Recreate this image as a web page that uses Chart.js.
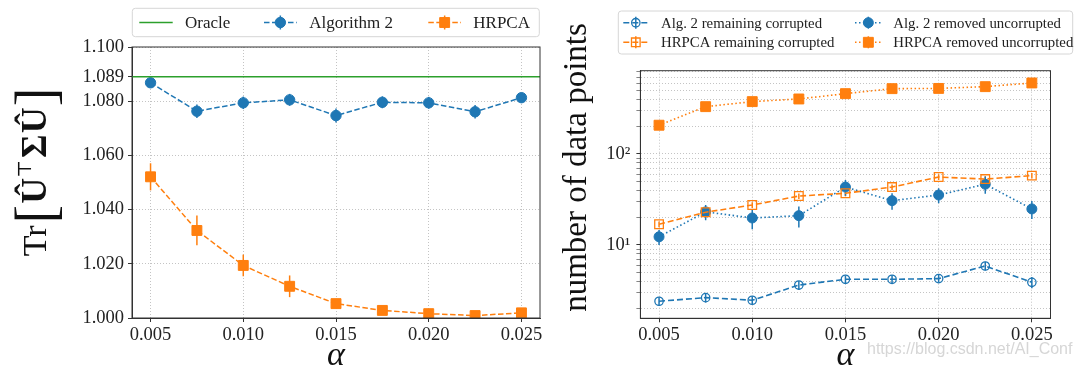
<!DOCTYPE html>
<html>
<head>
<meta charset="utf-8">
<script src="https://cdn.jsdelivr.net/npm/chart.js@4.4.0/dist/chart.umd.min.js"></script>
<style>
  html, body { margin: 0; padding: 0; background: #fff; }
  body { width: 1080px; height: 369px; position: relative; overflow: hidden; }
  canvas { position: absolute; top: 0; }
  #trChart { left: 0; }
  #countChart { left: 550px; }
  #mark {
    position: absolute; left: 867px; top: 341px;
    font: 16px/16px "Liberation Sans", sans-serif; color: #d6d6d6; white-space: nowrap;
  }
</style>
</head>
<body>
<canvas id="trChart" width="550" height="369"></canvas>
<canvas id="countChart" width="530" height="369"></canvas>
<div id="mark">https://blog.csdn.net/AI_Conf</div>
<script>
// values
const alphas = [0.005, 0.0075, 0.01, 0.0125, 0.015, 0.0175, 0.02, 0.0225, 0.025];
const alphaTicks = [0.005, 0.01, 0.015, 0.02, 0.025];

const oracleValue = 1.089;
const alg2Trace = [1.0868, 1.0763, 1.0794, 1.0805, 1.0747, 1.0796, 1.0794, 1.0761, 1.0813];
const alg2TraceErr = [0.001, 0.0025, 0.0023, 0.0022, 0.0026, 0.0022, 0.0022, 0.0025, 0.0015];
const hrpcaTrace = [1.0521, 1.0323, 1.0194, 1.0117, 1.0053, 1.0028, 1.0016, 1.0009, 1.0019];
const hrpcaTraceErr = [0.005, 0.0055, 0.004, 0.004, 0.001, 0.0008, 0.0006, 0.0005, 0.0006];
const traceTicks = [1.0, 1.02, 1.04, 1.06, 1.08, 1.089, 1.1];

const alg2Remaining = [2.41, 2.64, 2.47, 3.63, 4.2, 4.2, 4.27, 5.88, 3.89];
const alg2RemainingErr = [0.25, 0.3, 0.25, 0.4, 0.4, 0.45, 0.4, 0.65, 0.55];
const hrpcaRemaining = [16.9, 22.9, 27.5, 34.5, 37.0, 43.3, 55.8, 53.0, 57.8];
const hrpcaRemainingErr = [1.2, 1.6, 2, 2.4, 2.6, 3, 4, 4, 4];
const alg2Removed = [12.3, 23.1, 19.8, 21.0, 43.3, 30.7, 35.4, 46.5, 24.9];
const alg2RemovedErr = [2.3, 4.4, 4.9, 5.4, 8.5, 6.3, 6.6, 9.9, 5.6];
const hrpcaRemoved = [207, 331, 376, 402, 460, 522, 525, 549, 603];
const hrpcaRemovedErr = [8, 12, 14, 15, 17, 18, 18, 20, 20];
const countLabels = { 10: "10\u00B9", 100: "10\u00B2" };

const BLUE = "#1f77b4";
const ORANGE = "#ff7f0e";
const GREEN = "#2ca02c";
const SERIF = '"Liberation Serif", "DejaVu Serif", serif';

Chart.defaults.font.family = SERIF;
Chart.defaults.color = "#222";

const points = (ys) => alphas.map((a, i) => ({ x: a, y: ys[i] }));

// axes frame on all four sides
const frame = {
  id: "frame",
  afterDatasetsDraw(chart) {
    const { ctx, chartArea: a } = chart;
    ctx.save();
    ctx.strokeStyle = "#333";
    ctx.lineWidth = 1;
    ctx.strokeRect(a.left, a.top, a.right - a.left, a.bottom - a.top);
    ctx.restore();
  },
};

// vertical error bars, through the chart scales
const errorBars = {
  id: "errorBars",
  beforeDatasetsDraw(chart) {
    const { ctx, chartArea: a, scales } = chart;
    ctx.save();
    ctx.beginPath();
    ctx.rect(a.left, a.top, a.right - a.left, a.bottom - a.top);
    ctx.clip();
    chart.data.datasets.forEach((ds) => {
      if (!ds.errors) return;
      ctx.strokeStyle = ds.borderColor;
      ctx.lineWidth = 1.5;
      ds.data.forEach((p, j) => {
        const e = ds.errors[j];
        const px = scales.x.getPixelForValue(p.x);
        ctx.beginPath();
        ctx.moveTo(px, scales.y.getPixelForValue(p.y - e));
        ctx.lineTo(px, scales.y.getPixelForValue(p.y + e));
        ctx.stroke();
      });
    });
    ctx.restore();
  },
};

function drawMarker(ctx, ds, x, y) {
  const open = ds.pointBackgroundColor === "rgba(0,0,0,0)";
  ctx.save();
  ctx.setLineDash([]);
  ctx.fillStyle = ds.borderColor;
  ctx.strokeStyle = ds.borderColor;
  ctx.lineWidth = ds.pointBorderWidth || 1;
  ctx.beginPath();
  if (ds.pointStyle === "rect") {
    const h = ds.pointRadius * Math.SQRT1_2;
    ctx.rect(x - h, y - h, 2 * h, 2 * h);
  } else {
    ctx.arc(x, y, ds.pointRadius, 0, Math.PI * 2);
  }
  if (!open) ctx.fill();
  ctx.stroke();
  ctx.restore();
}

// matplotlib-like legend box
function makeLegend(cfg) {
  return {
    id: "boxLegend",
    afterDraw(chart) {
      const ctx = chart.ctx;
      const [bx, by, bw, bh] = cfg.box;
      ctx.save();
      ctx.fillStyle = "rgba(255,255,255,0.85)";
      ctx.strokeStyle = "#d6d6d6";
      ctx.lineWidth = 1;
      ctx.beginPath();
      ctx.roundRect(bx, by, bw, bh, 3);
      ctx.fill();
      ctx.stroke();

      cfg.entries.forEach((en) => {
        const ds = chart.data.datasets[en.ds];
        ctx.strokeStyle = ds.borderColor;
        ctx.lineWidth = ds.borderWidth;
        ctx.setLineDash(ds.borderDash || []);
        ctx.beginPath();
        ctx.moveTo(en.x0, en.y);
        ctx.lineTo(en.x1, en.y);
        ctx.stroke();
        ctx.setLineDash([]);
        const mx = (en.x0 + en.x1) / 2;
        if (ds.errors) {
          ctx.lineWidth = 1.5;
          ctx.beginPath();
          ctx.moveTo(mx, en.y - cfg.err);
          ctx.lineTo(mx, en.y + cfg.err);
          ctx.stroke();
        }
        if (ds.pointRadius) drawMarker(ctx, ds, mx, en.y);
        ctx.fillStyle = "#222";
        ctx.font = cfg.font;
        ctx.textAlign = "left";
        ctx.textBaseline = "middle";
        ctx.fillText(ds.label, en.tx, en.y + 1);
      });
      ctx.restore();
    },
  };
}

// rotated y label made of a few text runs
function makeYTitle(cfg) {
  return {
    id: "yTitle",
    afterDraw(chart) {
      const ctx = chart.ctx;
      ctx.save();
      ctx.translate(cfg.x, cfg.y);
      ctx.rotate(-Math.PI / 2);
      ctx.fillStyle = "#111";
      ctx.textBaseline = "alphabetic";
      ctx.textAlign = "left";
      let total = 0;
      cfg.runs.forEach((r) => {
        ctx.font = r.font;
        r.w = ctx.measureText(r.text).width;
        total += r.w + (r.gap || 0);
      });
      let u = -total / 2;
      cfg.runs.forEach((r) => {
        ctx.font = r.font;
        ctx.fillText(r.text, u, -(r.dy || 0));
        u += r.w + (r.gap || 0);
      });
      ctx.restore();
    },
  };
}

const tickFont = { family: SERIF, size: 18.5 };
const gridStyle = { color: "#c4c4c4", lineWidth: 1, tickColor: "#333", tickLength: 4 };
const gridBorder = { color: "#333", dash: [1, 2] };
const alphaTitle = {
  display: true,
  text: "\u03B1",
  color: "#111",
  font: { family: SERIF, size: 34, style: "italic", lineHeight: 0.75 },
  padding: { top: 0, bottom: 0 },
};

// left: trace
new Chart(document.getElementById("trChart"), {
  type: "line",
  data: {
    datasets: [
      {
        label: "Oracle",
        data: [{ x: 0.004, y: oracleValue }, { x: 0.026, y: oracleValue }],
        borderColor: GREEN,
        borderWidth: 1.5,
        pointRadius: 0,
      },
      {
        label: "Algorithm 2",
        data: points(alg2Trace),
        errors: alg2TraceErr,
        borderColor: BLUE,
        borderWidth: 1.5,
        borderDash: [5.5, 2.5],
        pointStyle: "circle",
        pointRadius: 5.2,
        pointBackgroundColor: BLUE,
        pointBorderColor: BLUE,
        pointBorderWidth: 1,
      },
      {
        label: "HRPCA",
        data: points(hrpcaTrace),
        errors: hrpcaTraceErr,
        borderColor: ORANGE,
        borderWidth: 1.5,
        borderDash: [5.5, 2.5],
        pointStyle: "rect",
        pointRadius: 7,
        pointBackgroundColor: ORANGE,
        pointBorderColor: ORANGE,
        pointBorderWidth: 1,
      },
    ],
  },
  options: {
    responsive: false,
    animation: false,
    events: [],
    layout: { padding: { top: 47, right: 10, left: 0, bottom: 0 } },
    plugins: { legend: { display: false }, tooltip: { enabled: false } },
    scales: {
      x: {
        type: "linear",
        min: 0.004,
        max: 0.026,
        afterBuildTicks: (s) => { s.ticks = alphaTicks.map((v) => ({ value: v })); },
        afterFit: (s) => { s.height = 51; },
        ticks: { font: tickFont, padding: 2, maxRotation: 0, autoSkip: false, callback: (v) => v.toFixed(3) },
        grid: gridStyle,
        border: gridBorder,
        title: alphaTitle,
      },
      y: {
        min: 1.0,
        max: 1.1,
        afterBuildTicks: (s) => { s.ticks = traceTicks.map((v) => ({ value: v })); },
        afterFit: (s) => { s.width = 132; },
        ticks: { font: tickFont, padding: 4, autoSkip: false, callback: (v) => v.toFixed(3) },
        grid: gridStyle,
        border: gridBorder,
      },
    },
  },
  plugins: [
    frame,
    errorBars,
    makeLegend({
      box: [132.3, 8.3, 407, 28.4],
      font: '17px ' + SERIF,
      err: 7,
      entries: [
        { ds: 0, x0: 139.3, x1: 172.7, y: 22.5, tx: 185 },
        { ds: 1, x0: 264, x1: 296.7, y: 22.5, tx: 309.3 },
        { ds: 2, x0: 428.3, x1: 461, y: 22.5, tx: 473.3 },
      ],
    }),
    makeYTitle({
      x: 46,
      y: 172,
      runs: [
        { text: "Tr", font: '34px ' + SERIF, gap: 2 },
        { text: "[", font: '56px ' + SERIF, dy: -8, gap: 1 },
        { text: "\u00DB", font: 'bold 36px ' + SERIF, gap: 0 },
        { text: "\u22A4", font: '19px "DejaVu Serif"', dy: 15, gap: 2 },
        { text: "\u03A3", font: 'bold 36px ' + SERIF, gap: 1 },
        { text: "\u00DB", font: 'bold 36px ' + SERIF, gap: 1 },
        { text: "]", font: '56px ' + SERIF, dy: -8 },
      ],
    }),
  ],
});

// right: counts on a log axis
new Chart(document.getElementById("countChart"), {
  type: "line",
  data: {
    datasets: [
      {
        label: "Alg. 2 remaining corrupted",
        data: points(alg2Remaining),
        errors: alg2RemainingErr,
        borderColor: BLUE,
        borderWidth: 1.6,
        borderDash: [6, 3],
        pointStyle: "circle",
        pointRadius: 4.2,
        pointBackgroundColor: "rgba(0,0,0,0)",
        pointBorderColor: BLUE,
        pointBorderWidth: 1.3,
      },
      {
        label: "HRPCA remaining corrupted",
        data: points(hrpcaRemaining),
        errors: hrpcaRemainingErr,
        borderColor: ORANGE,
        borderWidth: 1.6,
        borderDash: [6, 3],
        pointStyle: "rect",
        pointRadius: 6.1,
        pointBackgroundColor: "rgba(0,0,0,0)",
        pointBorderColor: ORANGE,
        pointBorderWidth: 1.3,
      },
      {
        label: "Alg. 2 removed uncorrupted",
        data: points(alg2Removed),
        errors: alg2RemovedErr,
        borderColor: BLUE,
        borderWidth: 1.6,
        borderDash: [1.5, 2.5],
        pointStyle: "circle",
        pointRadius: 5,
        pointBackgroundColor: BLUE,
        pointBorderColor: BLUE,
        pointBorderWidth: 1,
      },
      {
        label: "HRPCA removed uncorrupted",
        data: points(hrpcaRemoved),
        errors: hrpcaRemovedErr,
        borderColor: ORANGE,
        borderWidth: 1.6,
        borderDash: [1.5, 2.5],
        pointStyle: "rect",
        pointRadius: 7,
        pointBackgroundColor: ORANGE,
        pointBorderColor: ORANGE,
        pointBorderWidth: 1,
      },
    ],
  },
  options: {
    responsive: false,
    animation: false,
    events: [],
    layout: { padding: { top: 70.7, right: 29.5, left: 0, bottom: 0 } },
    plugins: { legend: { display: false }, tooltip: { enabled: false } },
    scales: {
      x: {
        type: "linear",
        min: 0.004,
        max: 0.026,
        afterBuildTicks: (s) => { s.ticks = alphaTicks.map((v) => ({ value: v })); },
        afterFit: (s) => { s.height = 50.7; },
        ticks: { font: tickFont, padding: 2, maxRotation: 0, autoSkip: false, callback: (v) => v.toFixed(3) },
        grid: gridStyle,
        border: gridBorder,
        title: alphaTitle,
      },
      y: {
        type: "logarithmic",
        min: 1.565,
        max: 822,
        afterBuildTicks: (s) => {
          const ticks = [];
          for (let dec = 1; dec <= 1000; dec *= 10) {
            for (let m = 1; m < 10; m++) {
              const v = m * dec;
              if (v >= s.min && v <= s.max) ticks.push({ value: v });
            }
          }
          s.ticks = ticks;
        },
        afterFit: (s) => { s.width = 90.4; },
        ticks: { font: tickFont, padding: 6, autoSkip: false, callback: (v) => countLabels[v] || "" },
        grid: {
          ...gridStyle,
          tickWidth: (c) => (c.tick && countLabels[c.tick.value] ? 1 : 0.6),
        },
        border: gridBorder,
      },
    },
  },
  plugins: [
    frame,
    errorBars,
    makeLegend({
      box: [68.3, 11, 454.4, 43],
      font: '14.8px ' + SERIF,
      err: 6,
      entries: [
        { ds: 0, x0: 73.3, x1: 98.3, y: 22.7, tx: 111 },
        { ds: 1, x0: 73.3, x1: 98.3, y: 42.3, tx: 111 },
        { ds: 2, x0: 305, x1: 331.7, y: 22.7, tx: 343.3 },
        { ds: 3, x0: 305, x1: 331.7, y: 42.3, tx: 343.3 },
      ],
    }),
    makeYTitle({
      x: 35.5,
      y: 167.5,
      runs: [{ text: "number of data points", font: '33px ' + SERIF }],
    }),
  ],
});
</script>
</body>
</html>
